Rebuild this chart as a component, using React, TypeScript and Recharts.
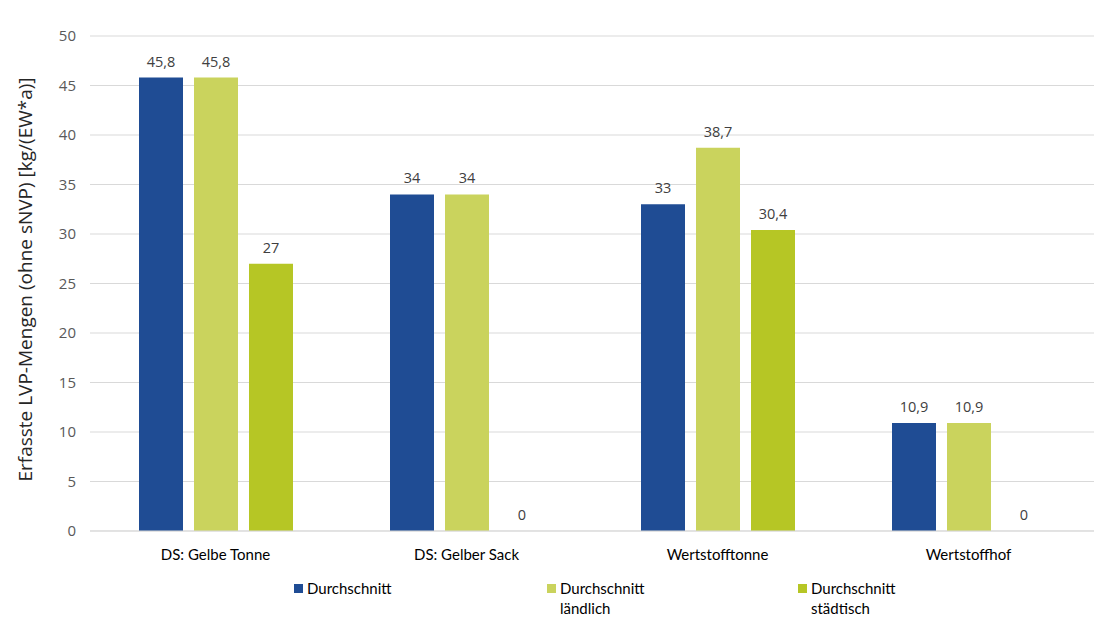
import React from "react";
import {
  BarChart,
  Bar,
  XAxis,
  YAxis,
  CartesianGrid,
  LabelList,
} from "recharts";

const categories = [
  "DS: Gelbe Tonne",
  "DS: Gelber Sack",
  "Wertstofftonne",
  "Wertstoffhof",
];
const durchschnitt = [45.8, 34, 33, 10.9];
const laendlich = [45.8, 34, 38.7, 10.9];
const staedtisch = [27, 0, 30.4, 0];
const yTicks = [0, 5, 10, 15, 20, 25, 30, 35, 40, 45, 50];

const series = [
  { key: "durchschnitt", lines: ["Durchschnitt"], color: "#1F4C94" },
  { key: "laendlich", lines: ["Durchschnitt", "ländlich"], color: "#CAD35D" },
  { key: "staedtisch", lines: ["Durchschnitt", "städtisch"], color: "#B6C625" },
];

const data = categories.map((name, i) => ({
  name,
  durchschnitt: durchschnitt[i],
  laendlich: laendlich[i],
  staedtisch: staedtisch[i],
}));

const fmt = (v: number) => String(v).replace(".", ",");

const legendX = [294, 547, 798];

function CustomLegend() {
  return (
    <div style={{ position: "absolute", left: 0, top: 578, width: 1112, height: 50 }}>
      {series.map((s, i) => (
        <div
          key={s.key}
          style={{
            position: "absolute",
            left: legendX[i],
            top: 0,
            display: "flex",
            alignItems: "flex-start",
            fontFamily: "Lato, 'Open Sans', sans-serif",
            fontSize: 15,
            color: "#000",
            lineHeight: "20px",
          }}
        >
          <span
            style={{
              display: "inline-block",
              width: 9,
              height: 9,
              background: s.color,
              marginTop: 6,
              marginRight: 4,
            }}
          />
          <span>
            {s.lines.map((l) => (
              <div key={l}>{l}</div>
            ))}
          </span>
        </div>
      ))}
    </div>
  );
}

function ValueLabel(props: any) {
  const { x, y, width, value } = props;
  if (value === undefined || value === null) return null;
  return (
    <text
      x={Number(x) + Number(width) / 2}
      y={Number(y) - 11}
      textAnchor="middle"
      fill="#404040"
      fontSize={14.5}
      fontFamily="'Open Sans', sans-serif"
    >
      {fmt(Number(value))}
    </text>
  );
}

export default function App() {
  return (
    <div style={{ position: "absolute", left: 0, top: 0, width: 1112, height: 635, background: "#fff" }}>
      <BarChart
        width={1112}
        height={635}
        data={data}
        margin={{ top: 36, right: 18, bottom: 74, left: 0 }}
        barSize={44}
        barGap={11}
      >
        <CartesianGrid vertical={false} stroke="#d9d9d9" />
        <XAxis
          dataKey="name"
          height={30}
          axisLine={{ stroke: "#d9d9d9" }}
          tickLine={false}
          tick={{ fill: "#000", fontSize: 15, fontFamily: "Lato, 'Open Sans', sans-serif" }}
          tickMargin={12}
        />
        <YAxis
          width={90}
          domain={[0, 50]}
          ticks={yTicks}
          axisLine={false}
          tickLine={false}
          tickMargin={8}
          tick={{ fill: "#595959", fontSize: 15, fontFamily: "'Open Sans', sans-serif" }}
          label={{
            value: "Erfasste LVP-Mengen (ohne sNVP) [kg/(EW*a)]",
            angle: -90,
            position: "insideLeft",
            dx: 20,
            dy: -4,
            style: {
              textAnchor: "middle",
              fill: "#262626",
              fontSize: 19,
              fontFamily: "'Open Sans', sans-serif",
            },
          }}
        />
        {series.map((s) => (
          <Bar key={s.key} dataKey={s.key} fill={s.color} minPointSize={0.01} isAnimationActive={false}>
            <LabelList dataKey={s.key} content={<ValueLabel />} />
          </Bar>
        ))}
      </BarChart>
      <CustomLegend />
    </div>
  );
}
